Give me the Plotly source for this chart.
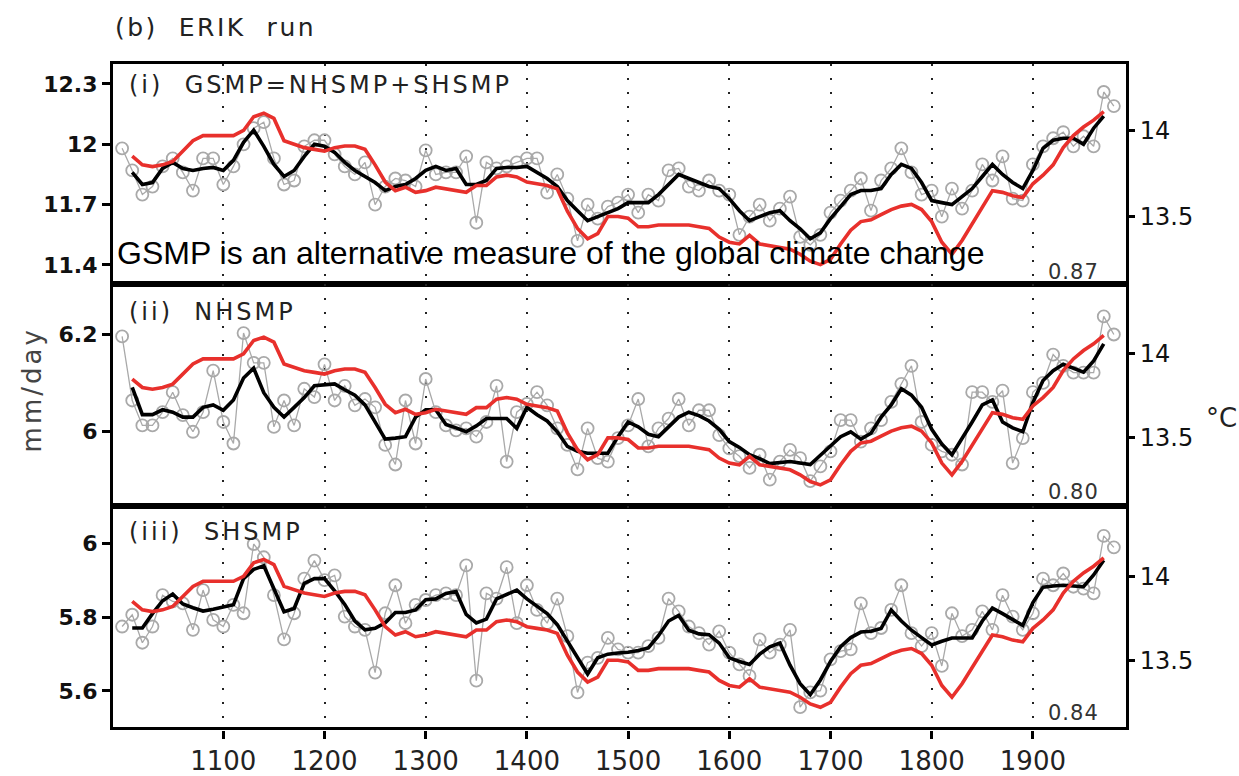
import plotly.graph_objects as go

# ---------------- data ----------------
years_raw = list(range(1000, 1990, 10))      # gray circles (decadal)
years_smooth = list(range(1010, 1980, 10))   # black & red lines

gsmp_raw = [11.98, 11.87, 11.75, 11.79, 11.89, 11.93, 11.86, 11.77, 11.93, 11.93,
            11.80, 11.89, 12.00, 12.08, 12.11, 11.93, 11.80, 11.82, 11.99, 12.02,
            12.02, 11.95, 11.89, 11.85, 11.91, 11.70, 11.79, 11.83, 11.82, 11.79,
            11.97, 11.85, 11.86, 11.86, 11.94, 11.61, 11.91, 11.88, 11.89, 11.91,
            11.93, 11.93, 11.76, 11.85, 11.73, 11.52, 11.70, 11.63, 11.69, 11.71,
            11.75, 11.66, 11.75, 11.72, 11.87, 11.88, 11.79, 11.77, 11.82, 11.77,
            11.75, 11.55, 11.64, 11.70, 11.62, 11.68, 11.74, 11.54, 11.50, 11.55,
            11.66, 11.72, 11.77, 11.83, 11.67, 11.82, 11.88, 11.98, 11.86, 11.75,
            11.77, 11.64, 11.78, 11.68, 11.77, 11.90, 11.82, 11.94, 11.73, 11.72,
            11.90, 11.99, 12.03, 12.06, 11.99, 12.04, 11.99, 12.26, 12.19]
gsmp_smooth = [11.86, 11.80, 11.81, 11.88, 11.91, 11.88, 11.87, 11.88, 11.885, 11.87,
               11.92, 12.01, 12.07, 11.99, 11.90, 11.84, 11.87, 11.94, 12.00, 11.99,
               11.96, 11.91, 11.87, 11.84, 11.81, 11.77, 11.79, 11.80, 11.83, 11.87,
               11.89, 11.87, 11.88, 11.80, 11.80, 11.82, 11.88, 11.885, 11.885, 11.89,
               11.86, 11.83, 11.79, 11.72, 11.67, 11.62, 11.64, 11.66, 11.68, 11.71,
               11.71, 11.71, 11.75, 11.80, 11.85, 11.83, 11.81, 11.79, 11.78, 11.73,
               11.67, 11.62, 11.64, 11.66, 11.67, 11.62, 11.58, 11.53, 11.56, 11.63,
               11.69, 11.75, 11.77, 11.77, 11.78, 11.85, 11.90, 11.88, 11.81, 11.72,
               11.71, 11.70, 11.74, 11.78, 11.84, 11.90, 11.85, 11.81, 11.78, 11.87,
               11.98, 12.02, 12.03, 12.03, 12.00, 12.08, 12.14]

nhsmp_raw = [6.195, 6.064, 6.013, 6.013, 6.040, 6.081, 6.034, 6.000, 6.040, 6.125,
             6.020, 5.976, 6.202, 6.141, 6.141, 6.010, 6.064, 6.013, 6.088, 6.071,
             6.138, 6.064, 6.094, 6.054, 6.067, 6.050, 5.973, 5.933, 6.064, 5.976,
             6.108, 6.040, 6.013, 6.003, 6.007, 5.990, 6.020, 6.094, 5.939, 6.040,
             6.057, 6.081, 6.054, 6.007, 5.973, 5.923, 6.007, 5.946, 5.939, 5.987,
             6.013, 6.067, 5.970, 6.007, 6.027, 6.067, 6.013, 6.044, 6.044, 5.993,
             5.966, 5.950, 5.926, 5.953, 5.902, 5.939, 5.963, 5.946, 5.899, 5.929,
             5.960, 6.024, 6.024, 5.980, 6.007, 6.024, 6.061, 6.098, 6.135, 6.020,
             5.973, 5.960, 5.953, 5.933, 6.081, 6.081, 6.061, 6.084, 5.936, 5.987,
             6.081, 6.100, 6.158, 6.135, 6.121, 6.121, 6.121, 6.236, 6.199]
nhsmp_smooth = [6.091, 6.035, 6.035, 6.045, 6.040, 6.030, 6.030, 6.050, 6.055, 6.044,
                6.065, 6.110, 6.130, 6.080, 6.050, 6.030, 6.050, 6.070, 6.094, 6.096,
                6.098, 6.086, 6.075, 6.055, 6.020, 5.985, 5.987, 5.990, 6.030, 6.045,
                6.045, 6.015, 6.008, 6.000, 6.012, 6.027, 6.027, 6.027, 6.007, 6.050,
                6.035, 6.022, 6.000, 5.970, 5.960, 5.956, 5.956, 5.956, 5.990, 6.020,
                6.010, 5.995, 5.990, 6.010, 6.030, 6.040, 6.033, 6.022, 6.005, 5.980,
                5.968, 5.953, 5.945, 5.935, 5.937, 5.939, 5.936, 5.933, 5.952, 5.970,
                5.990, 6.000, 5.985, 5.997, 6.030, 6.055, 6.088, 6.075, 6.050, 6.005,
                5.975, 5.953, 5.985, 6.020, 6.055, 6.065, 6.020, 6.008, 6.000, 6.060,
                6.105, 6.125, 6.138, 6.130, 6.122, 6.145, 6.180]

shsmp_raw = [5.775, 5.807, 5.731, 5.775, 5.860, 5.843, 5.838, 5.766, 5.874, 5.793,
             5.775, 5.834, 5.811, 5.999, 5.963, 5.860, 5.740, 5.811, 5.905, 5.954,
             5.901, 5.914, 5.802, 5.775, 5.766, 5.650, 5.811, 5.887, 5.784, 5.834,
             5.847, 5.860, 5.865, 5.860, 5.941, 5.628, 5.865, 5.851, 5.936, 5.784,
             5.887, 5.820, 5.784, 5.851, 5.749, 5.596, 5.677, 5.690, 5.744, 5.713,
             5.704, 5.704, 5.722, 5.744, 5.851, 5.816, 5.775, 5.757, 5.726, 5.762,
             5.704, 5.672, 5.641, 5.740, 5.704, 5.726, 5.766, 5.556, 5.596, 5.601,
             5.686, 5.708, 5.713, 5.838, 5.757, 5.771, 5.820, 5.887, 5.757, 5.722,
             5.757, 5.668, 5.811, 5.749, 5.766, 5.816, 5.766, 5.860, 5.802, 5.766,
             5.811, 5.905, 5.887, 5.919, 5.883, 5.878, 5.865, 6.021, 5.990]
shsmp_smooth = [5.771, 5.771, 5.810, 5.845, 5.863, 5.836, 5.826, 5.817, 5.822, 5.828,
                5.834, 5.905, 5.930, 5.940, 5.880, 5.815, 5.824, 5.892, 5.905, 5.905,
                5.872, 5.835, 5.790, 5.766, 5.770, 5.785, 5.813, 5.813, 5.820, 5.848,
                5.850, 5.865, 5.870, 5.808, 5.785, 5.795, 5.850, 5.862, 5.874, 5.850,
                5.830, 5.810, 5.780, 5.735, 5.690, 5.646, 5.690, 5.700, 5.703, 5.705,
                5.710, 5.717, 5.750, 5.790, 5.805, 5.765, 5.755, 5.753, 5.730, 5.690,
                5.680, 5.672, 5.700, 5.720, 5.730, 5.670, 5.620, 5.590, 5.630, 5.680,
                5.720, 5.745, 5.760, 5.762, 5.770, 5.820, 5.790, 5.765, 5.745, 5.725,
                5.735, 5.744, 5.744, 5.744, 5.790, 5.825, 5.810, 5.795, 5.778, 5.840,
                5.882, 5.885, 5.887, 5.885, 5.883, 5.915, 5.955]

temperature = [13.85, 13.80, 13.79, 13.80, 13.82, 13.88, 13.94, 13.97, 13.97, 13.97,
               13.97, 14.00, 14.08, 14.10, 14.07, 13.94, 13.92, 13.90, 13.89, 13.88,
               13.90, 13.91, 13.91, 13.89, 13.80, 13.70, 13.65, 13.67, 13.64, 13.65,
               13.67, 13.66, 13.65, 13.64, 13.68, 13.68, 13.73, 13.74, 13.73, 13.70,
               13.69, 13.68, 13.66, 13.53, 13.43, 13.37, 13.40, 13.50, 13.50, 13.49,
               13.44, 13.44, 13.45, 13.45, 13.45, 13.45, 13.44, 13.43, 13.38, 13.35,
               13.34, 13.39, 13.34, 13.33, 13.32, 13.31, 13.28, 13.24, 13.22, 13.25,
               13.34, 13.42, 13.47, 13.48, 13.51, 13.54, 13.56, 13.57, 13.54, 13.47,
               13.35, 13.28, 13.36, 13.46, 13.56, 13.65, 13.64, 13.62, 13.61, 13.69,
               13.74, 13.80, 13.90, 13.97, 14.02, 14.06, 14.11]

title_text = "(b)\u00a0 ERIK\u00a0 run"
panel_labels = ["(i)\u00a0 GSMP=NHSMP+SHSMP", "(ii)\u00a0 NHSMP", "(iii)\u00a0 SHSMP"]
correlations = ["0.87", "0.80", "0.84"]
note_text = "GSMP is an alternative measure of the global climate change"
left_title = "mm/day"
right_title = "°C"
century_ticks = [1100, 1200, 1300, 1400, 1500, 1600, 1700, 1800, 1900]
left_ticks = [[12.3, 12.0, 11.7, 11.4], [6.2, 6.0], [6.0, 5.8, 5.6]]
left_ticktext = [["12.3", "12", "11.7", "11.4"], ["6.2", "6"], ["6", "5.8", "5.6"]]
right_ticks = [14.0, 13.5]
right_ticktext = ["14", "13.5"]

# ---------------- layout geometry ----------------
W, H = 1239, 776
x_dom = [113 / W, 1126 / W]
panel_px = [(65, 287), (287, 512), (512, 736)]
y_doms = [[1 - b / H, 1 - t / H] for t, b in panel_px]
x_range = [991, 1992]
left_ranges = [[11.307, 12.398], [5.848, 6.303], [5.501, 6.102]]
right_ranges = [[13.109, 14.385], [13.094, 14.418], [13.100, 14.418]]

GRAY = "#a9a9a9"
RED = "#e8302c"
FONT = "DejaVu Sans"


def spaced(txt, px):
    return f'<span style="letter-spacing:{px}px">{txt}</span>'


raw_series = [gsmp_raw, nhsmp_raw, shsmp_raw]
smooth_series = [gsmp_smooth, nhsmp_smooth, shsmp_smooth]

fig = go.Figure()
for i in range(3):
    xa = "x" if i == 0 else f"x{i+1}"
    ya = "y" if i == 0 else f"y{i+1}"
    yr = f"y{i+4}"
    fig.add_trace(go.Scatter(x=years_raw, y=raw_series[i], mode="lines+markers",
                             line=dict(color=GRAY, width=1.3),
                             marker=dict(symbol="circle-open", size=12, color=GRAY,
                                         line=dict(width=1.8, color=GRAY)),
                             xaxis=xa, yaxis=ya, showlegend=False))
    fig.add_trace(go.Scatter(x=years_smooth, y=smooth_series[i], mode="lines",
                             line=dict(color="black", width=3.6),
                             xaxis=xa, yaxis=ya, showlegend=False))
    fig.add_trace(go.Scatter(x=years_smooth, y=temperature, mode="lines",
                             line=dict(color=RED, width=3.6),
                             xaxis=xa, yaxis=yr, showlegend=False))

layout = dict(width=W, height=H, margin=dict(l=0, r=0, t=0, b=0),
              paper_bgcolor="white", plot_bgcolor="white", showlegend=False)

for i in range(3):
    xk = "xaxis" if i == 0 else f"xaxis{i+1}"
    yk = "yaxis" if i == 0 else f"yaxis{i+1}"
    rk = f"yaxis{i+4}"
    ya = "y" if i == 0 else f"y{i+1}"
    xa = "x" if i == 0 else f"x{i+1}"
    bottom = (i == 2)
    layout[xk] = dict(domain=x_dom, range=x_range, anchor=ya,
                      tickmode="array", tickvals=century_ticks,
                      showgrid=True, griddash="2px,12px", gridcolor="#222222", gridwidth=1.6,
                      showticklabels=bottom, ticks="outside" if bottom else "",
                      ticklen=8, tickwidth=2.5, tickcolor="black",
                      tickfont=dict(family=FONT, size=26, color="#222222"),
                      showline=True, linewidth=3.2, linecolor="black", mirror=True,
                      zeroline=False)
    if i > 0:
        layout[xk]["matches"] = "x"
    layout[yk] = dict(domain=y_doms[i], range=left_ranges[i], anchor=xa,
                      tickmode="array", tickvals=left_ticks[i], ticktext=left_ticktext[i],
                      ticks="outside", ticklen=8, tickwidth=2.5, tickcolor="black",
                      tickfont=dict(family=FONT, size=22, color="#111111", weight="bold"),
                      showline=True, linewidth=3.2, linecolor="black", mirror=True,
                      showgrid=False, zeroline=False)
    layout[rk] = dict(range=right_ranges[i], overlaying=ya, side="right", anchor=xa,
                      tickmode="array", tickvals=right_ticks, ticktext=right_ticktext,
                      ticks="outside", ticklen=8, tickwidth=2.5, tickcolor="black",
                      tickfont=dict(family=FONT, size=24, color="#111111"),
                      showline=False, showgrid=False, zeroline=False)

fig.update_layout(**layout)

ann = []
ann.append(dict(text=spaced(title_text, 2.5), x=113 / W, y=1 - 28 / H,
                xanchor="left", yanchor="middle",
                font=dict(family=FONT, size=25, color="#222222")))
label_y = [86, 316, 538]
corr_y = [275, 498, 721]
for i in range(3):
    ann.append(dict(text=spaced(panel_labels[i], 3), x=127 / W, y=1 - label_y[i] / H,
                    xanchor="left", yanchor="middle",
                    font=dict(family=FONT, size=24, color="#222222")))
    ann.append(dict(text=spaced(correlations[i], 1), x=1101 / W, y=1 - corr_y[i] / H,
                    xanchor="right", yanchor="middle",
                    font=dict(family=FONT, size=21, color="#333333")))
ann.append(dict(text=note_text, x=115 / W, y=1 - 256 / H, xanchor="left", yanchor="middle",
                font=dict(family="Liberation Sans", size=32, color="black")))
ann.append(dict(text=spaced(left_title, 3), x=32 / W, y=1 - 395 / H,
                xanchor="center", yanchor="middle", textangle=-90,
                font=dict(family=FONT, size=26, color="#444444")))
ann.append(dict(text=right_title, x=1221 / W, y=1 - 423 / H, xanchor="center", yanchor="middle",
                font=dict(family=FONT, size=26, color="#222222")))
for a in ann:
    a.update(xref="paper", yref="paper", showarrow=False)
fig.update_layout(annotations=ann)

fig.write_html("out.html")
